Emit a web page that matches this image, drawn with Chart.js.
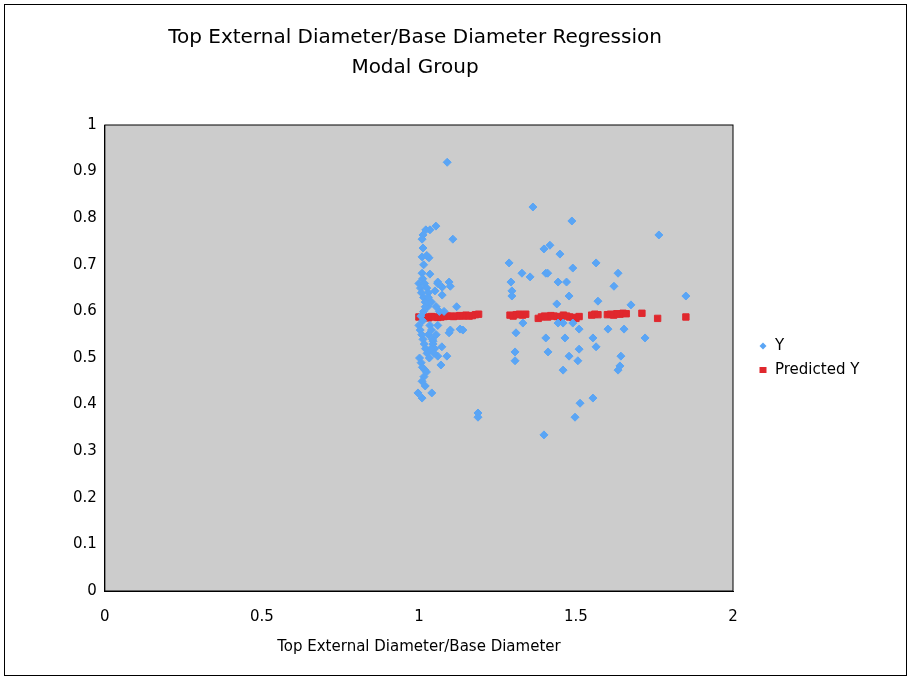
<!DOCTYPE html>
<html>
<head>
<meta charset="utf-8">
<script src="https://cdn.jsdelivr.net/npm/chart.js@4.4.0/dist/chart.umd.min.js"></script>
<style>
  body { margin: 0; background: #fff; }
  #frame { position: absolute; left: 4px; top: 4px; width: 903px; height: 672px; border: 1px solid #000; box-sizing: border-box; }
  canvas { position: absolute; left: 0; top: 0; }
</style>
</head>
<body>
<div id="frame"><canvas id="myChart" width="901" height="670"></canvas></div>
<script>
// observed Y
var obsX = [1.09, 1.363, 1.487, 1.764, 1.398, 1.417, 1.449, 1.287, 1.564, 1.49, 1.328, 1.404, 1.41, 1.354, 1.634,
    1.293, 1.443, 1.47, 1.621, 1.296, 1.296, 1.478, 1.85, 1.57, 1.439, 1.675, 1.331, 1.443, 1.459, 1.49, 1.51,
    1.309, 1.602, 1.653, 1.404, 1.465, 1.554, 1.72, 1.564, 1.51, 1.306, 1.411, 1.478, 1.506, 1.306, 1.643,
    1.64, 1.634, 1.459, 1.513, 1.554, 1.497, 1.398, 1.188, 1.188,
    0.997, 1.01, 1.041, 1.054, 1.035, 1.022, 1.013, 1.01, 1.108, 1.013, 1.01, 1.032, 1.01, 1.06, 1.096, 1.10,
    1.074, 1.051, 1.074, 1.019, 1.07, 1.06, 1.089, 1.073, 1.045, 1.131, 1.096,
    1.0, 1.005, 1.008, 1.012, 1.015, 1.018, 1.02, 1.025, 1.028, 1.03, 1.0, 1.004, 1.009, 1.013, 1.017,
    1.021, 1.026, 1.03, 1.035, 1.04, 1.045, 1.05, 1.055, 1.06, 1.065, 1.002, 1.007, 1.011, 1.016, 1.024,
    1.033, 1.038, 1.043, 1.048, 1.015, 1.02, 1.027, 1.012, 1.006, 1.03, 1.04, 1.055, 1.08, 1.1, 1.12,
    1.14, 1.06, 1.015, 1.025, 1.035, 1.01, 1.02];
var obsY = [0.92, 0.824, 0.794, 0.764, 0.734, 0.742, 0.723, 0.704, 0.704, 0.693, 0.682, 0.682, 0.682, 0.674, 0.682,
    0.663, 0.663, 0.663, 0.654, 0.644, 0.633, 0.633, 0.633, 0.622, 0.616, 0.614, 0.575, 0.575, 0.575, 0.575, 0.562,
    0.554, 0.562, 0.562, 0.543, 0.543, 0.543, 0.543, 0.524, 0.519, 0.513, 0.513, 0.504, 0.494, 0.494, 0.504,
    0.483, 0.474, 0.474, 0.403, 0.414, 0.373, 0.335, 0.382, 0.373,
    0.425, 0.414, 0.425, 0.783, 0.775, 0.775, 0.764, 0.755, 0.755, 0.736, 0.717, 0.715, 0.682, 0.663, 0.663, 0.654,
    0.652, 0.644, 0.635, 0.474, 0.485, 0.504, 0.504, 0.524, 0.536, 0.562, 0.554,
    0.66, 0.65, 0.64, 0.67, 0.63, 0.66, 0.62, 0.65, 0.61, 0.64, 0.57, 0.56, 0.55, 0.54, 0.53,
    0.52, 0.51, 0.55, 0.57, 0.56, 0.53, 0.52, 0.55, 0.57, 0.60, 0.50, 0.49, 0.48, 0.46, 0.47,
    0.50, 0.52, 0.54, 0.51, 0.60, 0.61, 0.62, 0.58, 0.59, 0.63, 0.62, 0.61, 0.60, 0.56, 0.61,
    0.56, 0.66, 0.70, 0.72, 0.68, 0.45, 0.44];
// predicted Y
var predX = [1.0, 1.01, 1.02, 1.03, 1.04, 1.05, 1.06, 1.07, 1.08, 1.09, 1.1, 1.11, 1.12, 1.13, 1.14, 1.15, 1.16,
    1.17, 1.18, 1.19, 1.29, 1.3, 1.31, 1.32, 1.33, 1.34, 1.38, 1.39, 1.4, 1.41, 1.42, 1.43, 1.44, 1.45, 1.46,
    1.47, 1.48, 1.49, 1.5, 1.51, 1.55, 1.56, 1.57, 1.6, 1.61, 1.62, 1.63, 1.64, 1.65, 1.66, 1.71, 1.76, 1.85];
var predY = [0.588, 0.587, 0.588, 0.586, 0.589, 0.588, 0.587, 0.588, 0.589, 0.59, 0.59, 0.589, 0.59, 0.591, 0.59,
    0.592, 0.59, 0.591, 0.593, 0.594, 0.592, 0.59, 0.593, 0.594, 0.592, 0.594, 0.585, 0.588, 0.59, 0.588, 0.591,
    0.59, 0.589, 0.586, 0.592, 0.59, 0.588, 0.587, 0.585, 0.589, 0.592, 0.594, 0.593, 0.593, 0.594, 0.592,
    0.595, 0.594, 0.596, 0.595, 0.596, 0.585, 0.588];

var xTicks = [0, 0.5, 1, 1.5, 2];
var yTicks = [0, 0.1, 0.2, 0.3, 0.4, 0.5, 0.6, 0.7, 0.8, 0.9, 1];
var titleLines = ['Top External Diameter/Base Diameter Regression', 'Modal Group'];

function pts(xs, ys) {
    return xs.map(function (x, i) { return { x: x, y: ys[i] }; });
}

var font = { family: '"DejaVu Sans", Verdana, sans-serif', size: 15 };

var plotBg = {
    id: 'plotBg',
    beforeDraw: function (chart) {
        var c = chart.ctx, a = chart.chartArea;
        c.save();
        c.fillStyle = '#cccccc';
        c.fillRect(a.left, a.top, a.right - a.left, a.bottom - a.top);
        c.restore();
    },
    afterDatasetsDraw: function (chart) {
        var c = chart.ctx, a = chart.chartArea;
        c.save();
        c.strokeStyle = '#000';
        c.lineWidth = 1;
        c.strokeRect(a.left, a.top, a.right - a.left, a.bottom - a.top);
        // title, centred a bit right of the plot
        c.font = '20px ' + font.family;
        c.textAlign = 'center';
        c.textBaseline = 'middle';
        c.fillStyle = '#000';
        titleLines.forEach(function (t, i) { c.fillText(t, 410, 33 + i * 30); });
        // legend on the right
        c.textAlign = 'left';
        c.font = font.size + 'px ' + font.family;
        var lx = a.right + 30, ly = 341;
        chart.data.datasets.forEach(function (ds, i) {
            var yy = ly + i * 24;
            c.fillStyle = ds.backgroundColor;
            if (i === 0) {
                c.beginPath();
                c.moveTo(lx, yy - 3.5); c.lineTo(lx + 3.5, yy); c.lineTo(lx, yy + 3.5); c.lineTo(lx - 3.5, yy);
                c.fill();
            } else {
                c.fillRect(lx - 3.5, yy - 3, 7, 6);
            }
            c.fillStyle = '#000';
            c.fillText(ds.label, lx + 12, yy);
        });
        c.restore();
    }
};

new Chart(document.getElementById('myChart'), {
    type: 'scatter',
    data: {
        datasets: [{
            label: 'Y',
            data: pts(obsX, obsY),
            pointStyle: 'rectRot',
            radius: 4,
            backgroundColor: '#5aa5f5',
            borderColor: '#5aa5f5'
        }, {
            label: 'Predicted Y',
            data: pts(predX, predY),
            pointStyle: 'rect',
            radius: 4.5,
            backgroundColor: '#e0282e',
            borderColor: '#e0282e'
        }]
    },
    options: {
        responsive: false,
        animation: false,
        layout: { padding: { left: 65, right: 173, top: 120, bottom: 19 } },
        scales: {
            x: {
                min: 0, max: 2,
                afterBuildTicks: function (s) { s.ticks = xTicks.map(function (v) { return { value: v }; }); },
                grid: { display: false, tickLength: 5, tickColor: '#000' },
                border: { color: '#000' },
                ticks: { color: '#000', font: font, padding: 12, callback: function (v) { return String(v); } },
                title: { display: true, text: 'Top External Diameter/Base Diameter', color: '#000', font: font, padding: 0 }
            },
            y: {
                min: 0, max: 1,
                afterBuildTicks: function (s) { s.ticks = yTicks.map(function (v) { return { value: v }; }); },
                grid: { display: false, tickLength: 5, tickColor: '#000' },
                border: { color: '#000' },
                ticks: { color: '#000', font: font, callback: function (v) { return String(v); } }
            }
        },
        plugins: {
            title: { display: false },
            legend: { display: false },
            tooltip: { enabled: false }
        }
    },
    plugins: [plotBg]
});
</script>
</body>
</html>
